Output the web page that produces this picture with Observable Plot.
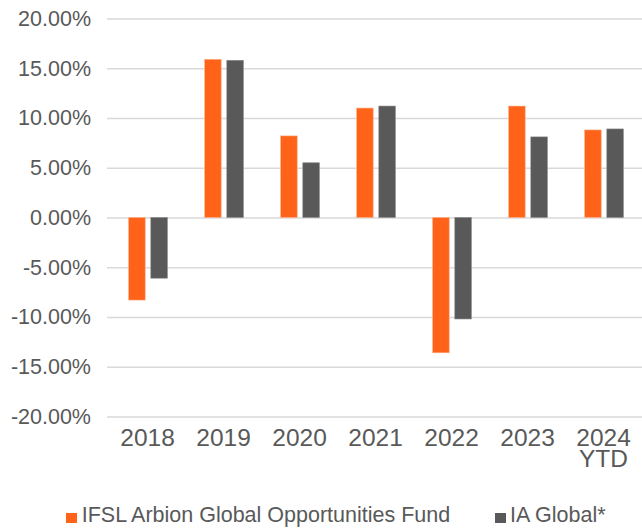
<!DOCTYPE html>
<html>
<head>
<meta charset="utf-8">
<script src="https://cdn.jsdelivr.net/npm/d3@7"></script>
<script src="https://cdn.jsdelivr.net/npm/@observablehq/plot@0.6"></script>
<style>
  html, body { margin: 0; padding: 0; background: #fff; }
  #wrap { position: relative; width: 642px; height: 528px; font-family: "Liberation Sans", Arial, sans-serif; color: #595959; }
  #legend { position: absolute; left: 0; top: 505px; width: 642px; height: 22px; font-size: 21.5px; line-height: 21.5px; }
  .item { position: absolute; top: 0; white-space: nowrap; }
  .sw { position: absolute; top: 7.5px; width: 10.5px; height: 10.5px; }
  .lbl { position: absolute; top: 0; }
</style>
</head>
<body>
<div id="wrap"><div id="chart"></div><div id="legend"></div></div>
<script>
const years = ["2018", "2019", "2020", "2021", "2022", "2023", "2024 YTD"];
const fundReturns = [-8.3, 15.9, 8.2, 11.0, -13.6, 11.2, 8.8];
const sectorReturns = [-6.1, 15.8, 5.5, 11.2, -10.2, 8.1, 8.9];
const yTicks = [-20, -15, -10, -5, 0, 5, 10, 15, 20];
const seriesNames = ["IFSL Arbion Global Opportunities Fund", "IA Global*"];
const seriesColors = ["#FF6319", "#595959"];

const fundData = years.map((year, i) => ({year, value: fundReturns[i]}));
const sectorData = years.map((year, i) => ({year, value: sectorReturns[i]}));

const chart = Plot.plot({
  width: 642,
  height: 490,
  marginTop: 18.5,
  marginBottom: 73.5,
  marginLeft: 107,
  marginRight: 0,
  style: {fontFamily: "Liberation Sans, Arial, sans-serif", color: "#595959", background: "#fff"},
  x: {type: "band", domain: years, padding: 0},
  y: {domain: [-20, 20]},
  marks: [
    Plot.ruleY(yTicks, {stroke: "#d9d9d9", strokeWidth: 1.3}),
    Plot.barY(fundData, {x: "year", y: "value", fill: seriesColors[0], insetLeft: 19.6, insetRight: 39.8, stroke: "#ffb08a", strokeWidth: 0.6}),
    Plot.barY(sectorData, {x: "year", y: "value", fill: seriesColors[1], insetLeft: 41.8, insetRight: 17.6, stroke: "#8a8a8a", strokeWidth: 0.6}),
    Plot.axisY({ticks: yTicks, tickSize: 0, tickPadding: 16.5, fontSize: 21.5, tickFormat: d => d.toFixed(2) + "%", label: null}),
    Plot.axisX({tickSize: 0, tickPadding: 14.5, fontSize: 24.5, lineHeight: 0.845, tickFormat: d => d.replace(" ", "\n"), label: null})
  ]
});
document.getElementById("chart").appendChild(chart);

const legend = document.getElementById("legend");
const legendPos = [{sw: 66, txt: 81.7}, {sw: 495, txt: 510}];
seriesNames.forEach((name, i) => {
  const sw = document.createElement("div");
  sw.className = "sw";
  sw.style.left = legendPos[i].sw + "px";
  sw.style.background = seriesColors[i];
  legend.appendChild(sw);
  const lbl = document.createElement("div");
  lbl.className = "lbl";
  lbl.style.left = legendPos[i].txt + "px";
  lbl.textContent = name;
  legend.appendChild(lbl);
});
</script>
</body>
</html>
